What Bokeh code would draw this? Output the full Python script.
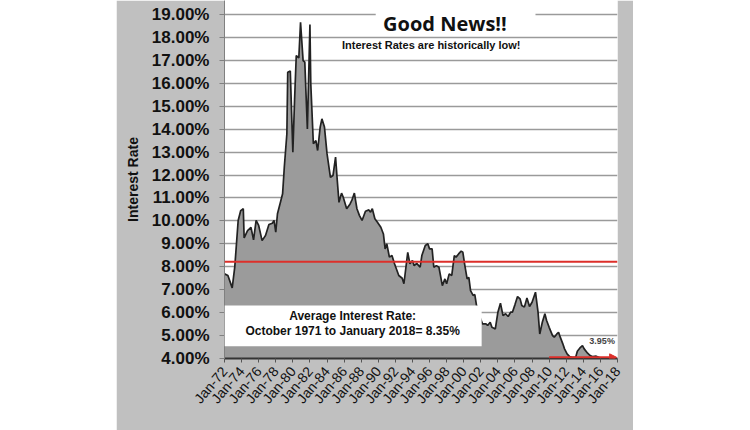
import math
from bokeh.plotting import figure
from bokeh.layouts import row
from bokeh.models import (ColumnDataSource, FixedTicker, Span, BoxAnnotation, Label,
                          Arrow, NormalHead, Spacer, Range1d)
from bokeh.embed import file_html
from bokeh.resources import INLINE

# ---- data (decimal years, mortgage interest rate %) ----
years = [1972.0, 1972.4, 1972.9, 1973.2, 1973.6, 1973.9, 1974.2, 1974.3, 1974.7, 1975.1,
         1975.4, 1975.7, 1976.0, 1976.4, 1976.8, 1977.2, 1977.6, 1977.8, 1978.0, 1978.2,
         1978.6, 1978.8, 1979.0, 1979.3, 1979.4, 1979.7, 1980.0, 1980.2, 1980.4, 1980.7,
         1980.9, 1981.2, 1981.4, 1981.7, 1982.0, 1982.1, 1982.4, 1982.7, 1982.9, 1983.2,
         1983.4, 1983.7, 1984.0, 1984.4, 1984.7, 1985.0, 1985.2, 1985.4, 1985.7, 1985.9,
         1986.3, 1986.7, 1986.9, 1987.2, 1987.5, 1987.8, 1988.1, 1988.5, 1988.9, 1989.1,
         1989.3, 1989.6, 1989.9, 1990.3, 1990.6, 1990.8, 1991.0, 1991.3, 1991.6, 1991.9,
         1992.4, 1992.8, 1993.0, 1993.45, 1993.7, 1994.0, 1994.2, 1994.5, 1994.9, 1995.1,
         1995.5, 1995.8, 1996.0, 1996.3, 1996.5, 1996.8, 1997.1, 1997.5, 1997.8, 1998.0,
         1998.3, 1998.6, 1998.9, 1999.1, 1999.4, 1999.7, 1999.9, 2000.1, 2000.4, 2000.6,
         2000.8, 2001.1, 2001.3, 2001.5, 2001.8, 2002.2, 2002.6, 2002.8, 2003.1, 2003.3,
         2003.7, 2004.0, 2004.3, 2004.6, 2004.9, 2005.2, 2005.5, 2005.7, 2006.0, 2006.3,
         2006.6, 2006.8, 2007.1, 2007.4, 2007.7, 2008.0, 2008.4, 2008.7, 2008.9, 2009.2,
         2009.5, 2009.7, 2010.0, 2010.4, 2010.6, 2010.9, 2011.1, 2011.3, 2011.6, 2011.8,
         2012.1, 2012.4, 2012.7, 2013.1, 2013.3, 2013.6, 2013.9, 2014.1, 2014.5, 2014.8,
         2015.1, 2015.5, 2015.8, 2016.1, 2016.5, 2017.0, 2017.5, 2018.0]
rates = [7.69, 7.62, 7.08, 7.98, 10.02, 10.45, 10.53, 9.26, 9.58, 9.72,
         9.17, 10.02, 9.80, 9.14, 9.36, 9.84, 9.90, 10.02, 9.51, 10.31,
         10.89, 11.18, 12.34, 13.80, 16.48, 16.53, 12.99, 15.25, 17.21, 17.11,
         18.66, 16.99, 16.92, 14.01, 18.56, 15.98, 13.36, 13.50, 13.07, 14.09,
         14.45, 14.09, 12.93, 11.90, 11.98, 12.78, 11.76, 10.81, 11.21, 11.03,
         10.53, 10.74, 10.89, 11.21, 10.53, 10.23, 10.02, 10.42, 10.48, 10.38,
         10.53, 10.09, 9.94, 9.72, 9.43, 8.78, 9.00, 8.42, 8.49, 8.13,
         7.62, 7.50, 7.26, 8.63, 8.13, 8.27, 8.05, 8.15, 7.98, 8.49,
         8.93, 9.00, 8.78, 8.78, 7.98, 8.05, 7.98, 7.18, 7.47, 7.26,
         7.69, 7.62, 8.49, 8.42, 8.56, 8.68, 8.63, 8.13, 7.47, 7.54,
         6.96, 6.75, 6.79, 6.31, 5.90, 5.51, 5.51, 5.44, 5.58, 5.36,
         5.29, 6.02, 6.41, 5.87, 5.95, 5.83, 6.02, 6.02, 6.35, 6.70,
         6.60, 6.31, 6.24, 6.64, 6.27, 6.45, 6.89, 6.02, 5.07, 5.58,
         5.95, 5.66, 5.36, 5.00, 4.93, 5.07, 5.14, 4.93, 4.64, 4.42,
         4.20, 4.08, 4.05, 4.05, 4.32, 4.46, 4.56, 4.42, 4.23, 4.13,
         4.08, 4.10, 4.05, 4.02, 3.97, 3.95, 3.95, 3.95]

x_tick_years = [1972, 1974, 1976, 1978, 1980, 1982, 1984, 1986, 1988, 1990, 1992, 1994,
                1996, 1998, 2000, 2002, 2004, 2006, 2008, 2010, 2012, 2014, 2016, 2018]
x_tick_labels = ["Jan-72", "Jan-74", "Jan-76", "Jan-78", "Jan-80", "Jan-82", "Jan-84",
                 "Jan-86", "Jan-88", "Jan-90", "Jan-92", "Jan-94", "Jan-96", "Jan-98",
                 "Jan-00", "Jan-02", "Jan-04", "Jan-06", "Jan-08", "Jan-10", "Jan-12",
                 "Jan-14", "Jan-16", "Jan-18"]
y_tick_values = [4, 5, 6, 7, 8, 9, 10, 11, 12, 13, 14, 15, 16, 17, 18, 19]
y_tick_labels = ["4.00%", "5.00%", "6.00%", "7.00%", "8.00%", "9.00%", "10.00%", "11.00%",
                 "12.00%", "13.00%", "14.00%", "15.00%", "16.00%", "17.00%", "18.00%", "19.00%"]

average_line_level = 8.22
average_text_1 = "Average Interest Rate:"
average_text_2 = "October 1971 to January 2018= 8.35%"
current_rate_text = "3.95%"
arrow_from_year = 2010.0

RED = "#dd2f2a"
FONT = "Liberation Sans"
Y_TOP = 19.61

src = ColumnDataSource(dict(x=years, y=rates))

p = figure(width=517, height=430, output_backend="svg", toolbar_location=None,
           x_range=Range1d(1972, 2018), y_range=Range1d(4, Y_TOP),
           min_border_left=108, min_border_right=16, min_border_top=0, min_border_bottom=72,
           background_fill_color="white", border_fill_color="#c0c0c0",
           outline_line_color=None)

p.varea(x="x", y1=0, y2="y", source=src, fill_color="#9b9b9b")
p.line(x="x", y="y", source=src, line_color="#222222", line_width=1.7)

# white boxes
p.add_layout(BoxAnnotation(left=1972, right=2002.1, bottom=4.53, top=6.31,
                           fill_color="white", fill_alpha=1.0, line_color=None))
p.add_layout(BoxAnnotation(left=1989.7, right=2008.4, bottom=18.27, top=Y_TOP,
                           fill_color="white", fill_alpha=1.0, line_color=None))

p.add_layout(Span(location=average_line_level, dimension="width",
                  line_color=RED, line_width=2))

p.add_layout(Arrow(end=NormalHead(size=7, fill_color=RED, line_color=RED),
                   x_start=arrow_from_year, y_start=4.05, x_end=x_tick_years[-1] - 0.1, y_end=4.05,
                   line_color=RED, line_width=2))

p.add_layout(Label(x=1997.8, y=18.61, text="Good News!!", text_font="Open Sans",
                   text_font_style="bold", text_font_size="20px", text_color="#111111",
                   text_align="center", text_baseline="middle"))
p.add_layout(Label(x=1996.2, y=17.65, text="Interest Rates are historically low!",
                   text_font=FONT, text_font_style="bold", text_font_size="11px",
                   text_color="#111111", text_align="center", text_baseline="middle"))
p.add_layout(Label(x=1987.0, y=5.87, text=average_text_1, text_font=FONT,
                   text_font_style="bold", text_font_size="12px", text_color="#111111",
                   text_align="center", text_baseline="middle"))
p.add_layout(Label(x=1987.0, y=5.19, text=average_text_2, text_font=FONT,
                   text_font_style="bold", text_font_size="12px", text_color="#111111",
                   text_align="center", text_baseline="middle"))
p.add_layout(Label(x=2016.2, y=4.78, text=current_rate_text, text_font=FONT,
                   text_font_style="bold", text_font_size="9px", text_color="#444444",
                   text_align="center", text_baseline="middle"))

# axes
p.yaxis.ticker = FixedTicker(ticks=y_tick_values)
p.yaxis.major_label_overrides = {v: l for v, l in zip(y_tick_values, y_tick_labels)}
p.yaxis.axis_label = "Interest Rate"
p.yaxis.axis_label_text_font = FONT
p.yaxis.axis_label_text_font_style = "bold"
p.yaxis.axis_label_text_font_size = "14px"
p.yaxis.axis_label_text_color = "#111111"
p.yaxis.axis_label_standoff = 8
p.yaxis.major_label_text_font = FONT
p.yaxis.major_label_text_font_style = "bold"
p.yaxis.major_label_text_font_size = "17px"
p.yaxis.major_label_text_color = "#111111"
p.yaxis.major_label_standoff = 10
p.yaxis.axis_line_color = "#808080"
p.yaxis.major_tick_line_color = "#808080"
p.yaxis.major_tick_in = 0
p.yaxis.major_tick_out = 5
p.yaxis.minor_tick_line_color = None

p.xaxis.ticker = FixedTicker(ticks=x_tick_years)
p.xaxis.major_label_overrides = {v: l for v, l in zip(x_tick_years, x_tick_labels)}
p.xaxis.major_label_orientation = 0.87
p.xaxis.major_label_text_font = FONT
p.xaxis.major_label_text_font_size = "14px"
p.xaxis.major_label_text_color = "#111111"
p.xaxis.major_label_standoff = 6
p.xaxis.axis_line_color = "#333333"
p.xaxis.axis_line_width = 2
p.xaxis.major_tick_line_color = "#555555"
p.xaxis.major_tick_in = 0
p.xaxis.major_tick_out = 4
p.xaxis.minor_tick_line_color = None

p.xgrid.visible = False
p.ygrid.grid_line_color = "#9a9a9a"
p.ygrid.grid_line_width = 1.6

layout = row(Spacer(width=116, height=430), p)
open("out.html", "w").write(file_html(layout, INLINE))
